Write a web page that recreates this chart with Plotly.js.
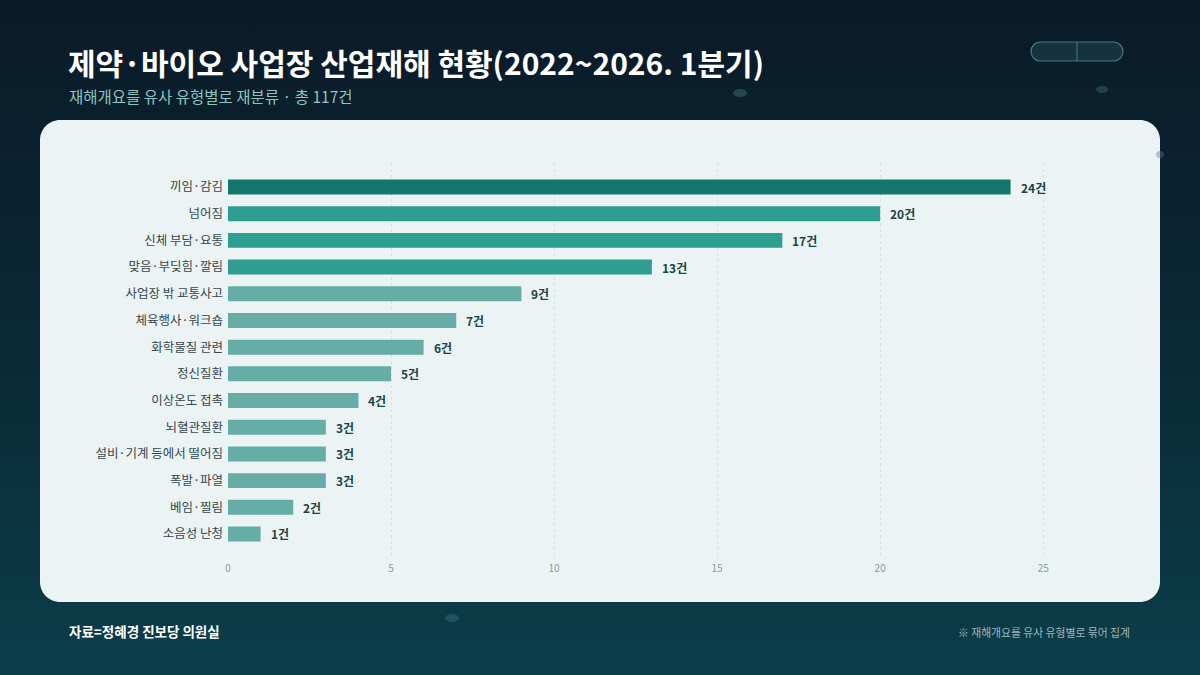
<!DOCTYPE html>
<html><head><meta charset="utf-8">
<script src="https://cdn.plot.ly/plotly-3.0.1.min.js"></script>
<style>
html,body{margin:0;padding:0;width:1200px;height:675px;overflow:hidden;
background:linear-gradient(180deg,#0a1a28 0%,#0b2a37 55%,#0b3e4b 100%);}
#chart{width:1200px;height:675px;}
</style></head><body><div id="chart"></div>
<script>
const categories = ['끼임·감김','넘어짐','신체 부담·요통','맞음·부딪힘·깔림','사업장 밖 교통사고','체육행사·워크숍','화학물질 관련','정신질환','이상온도 접촉','뇌혈관질환','설비·기계 등에서 떨어짐','폭발·파열','베임·찔림','소음성 난청'];
const counts = [24,20,17,13,9,7,6,5,4,3,3,3,2,1];
const xTicks = [0,5,10,15,20,25];

const W=1200,H=675, L=228, R=1141, T=163, B=558;
const px = x => (x-L)/(R-L);
const py = y => (B-y)/(B-T);
const FONT = '"Noto Sans CJK KR","Noto Sans",sans-serif';

const colors = counts.map((v,i)=> i===0 ? '#13766c' : (i<4 ? '#2d9e8f' : '#65ada6'));

function roundRect(x0,y0,x1,y1,r){
  const X=px, Y=py;
  const k=0.55*r;
  return `M ${X(x0+r)},${Y(y0)} L ${X(x1-r)},${Y(y0)} C ${X(x1-r+k)},${Y(y0)} ${X(x1)},${Y(y0+r-k)} ${X(x1)},${Y(y0+r)} `+
    `L ${X(x1)},${Y(y1-r)} C ${X(x1)},${Y(y1-r+k)} ${X(x1-r+k)},${Y(y1)} ${X(x1-r)},${Y(y1)} `+
    `L ${X(x0+r)},${Y(y1)} C ${X(x0+r-k)},${Y(y1)} ${X(x0)},${Y(y1-r+k)} ${X(x0)},${Y(y1-r)} `+
    `L ${X(x0)},${Y(y0+r)} C ${X(x0)},${Y(y0+r-k)} ${X(x0+r-k)},${Y(y0)} ${X(x0+r)},${Y(y0)} Z`;
}

const shapes = [
  {type:'path', xref:'paper', yref:'paper', path: roundRect(40,120,1160,602,20), fillcolor:'#ecf3f4', line:{width:0}, layer:'below'},
  {type:'path', xref:'paper', yref:'paper', path: roundRect(1031,42,1123,61,9.5), fillcolor:'rgba(30,70,80,0.55)', line:{color:'rgba(120,170,175,0.6)',width:1.2}, layer:'below'},
  {type:'line', xref:'paper', yref:'paper', x0:px(1077), x1:px(1077), y0:py(42), y1:py(61), line:{color:'rgba(120,170,175,0.6)',width:1}},
  {type:'circle', xref:'paper', yref:'paper', x0:px(733), x1:px(747), y0:py(89), y1:py(97), fillcolor:'rgba(60,110,120,0.5)', line:{width:0}, layer:'below'},
  {type:'circle', xref:'paper', yref:'paper', x0:px(1096), x1:px(1108), y0:py(86), y1:py(93), fillcolor:'rgba(60,110,120,0.45)', line:{width:0}, layer:'below'},
  {type:'circle', xref:'paper', yref:'paper', x0:px(445), x1:px(459), y0:py(614), y1:py(622), fillcolor:'rgba(40,100,110,0.6)', line:{width:0}, layer:'below'},
  {type:'circle', xref:'paper', yref:'paper', x0:px(1156), x1:px(1164), y0:py(151), y1:py(158), fillcolor:'rgba(80,130,140,0.4)', line:{width:0}, layer:'below'}
];

const annotations = counts.map((v,i)=>({
  x:v, y:categories[i], xref:'x', yref:'y', text:'<b>'+v+'건</b>', showarrow:false,
  xanchor:'left', yanchor:'middle', xshift:8,
  font:{family:FONT,size:12,color:'#1a4446'}
}));
annotations.push(
  {xref:'paper',yref:'paper',x:px(66),y:py(62),xanchor:'left',yanchor:'middle',showarrow:false,
   text:'<b>제약·바이오 사업장 산업재해 현황(2022~2026. 1분기)</b>',font:{family:FONT,size:30,color:'#ffffff'}},
  {xref:'paper',yref:'paper',x:px(67),y:py(96),xanchor:'left',yanchor:'middle',showarrow:false,
   text:'재해개요를 유사 유형별로 재분류 · 총 117건',font:{family:FONT,size:15.5,color:'#8cc5c0'}},
  {xref:'paper',yref:'paper',x:px(67),y:py(631),xanchor:'left',yanchor:'middle',showarrow:false,
   text:'<b>자료=정혜경 진보당 의원실</b>',font:{family:FONT,size:13.5,color:'#ffffff'}},
  {xref:'paper',yref:'paper',x:px(1132),y:py(632),xanchor:'right',yanchor:'middle',showarrow:false,
   text:'※ 재해개요를 유사 유형별로 묶어 집계',font:{family:FONT,size:10.8,color:'#9fb6ba'}}
);

const trace = {
  type:'bar', orientation:'h', x:counts, y:categories,
  marker:{color:colors, line:{width:0}}, width:0.56,
  hoverinfo:'skip'
};

const layout = {
  width:W, height:H,
  paper_bgcolor:'rgba(0,0,0,0)', plot_bgcolor:'rgba(0,0,0,0)',
  margin:{l:L, r:W-R, t:T, b:H-B, pad:0},
  showlegend:false,
  xaxis:{range:[0,28], tickvals:xTicks, ticktext:xTicks.map(String), showgrid:true,
    gridcolor:'rgba(160,180,185,0.28)', griddash:'dot', gridwidth:1, zeroline:false,
    showline:false, ticks:'', ticklabelstandoff:3, tickfont:{family:FONT,size:10,color:'#8a9aa0'}, fixedrange:true},
  yaxis:{type:'category', range:[13.9,-0.9], showgrid:false, zeroline:false, showline:false,
    ticks:'', ticklabelstandoff:4, tickfont:{family:FONT,size:12.5,color:'#33474c'}, automargin:false},
  shapes, annotations
};

Plotly.newPlot('chart',[trace],layout,{displayModeBar:false,staticPlot:true});
</script></body></html>
